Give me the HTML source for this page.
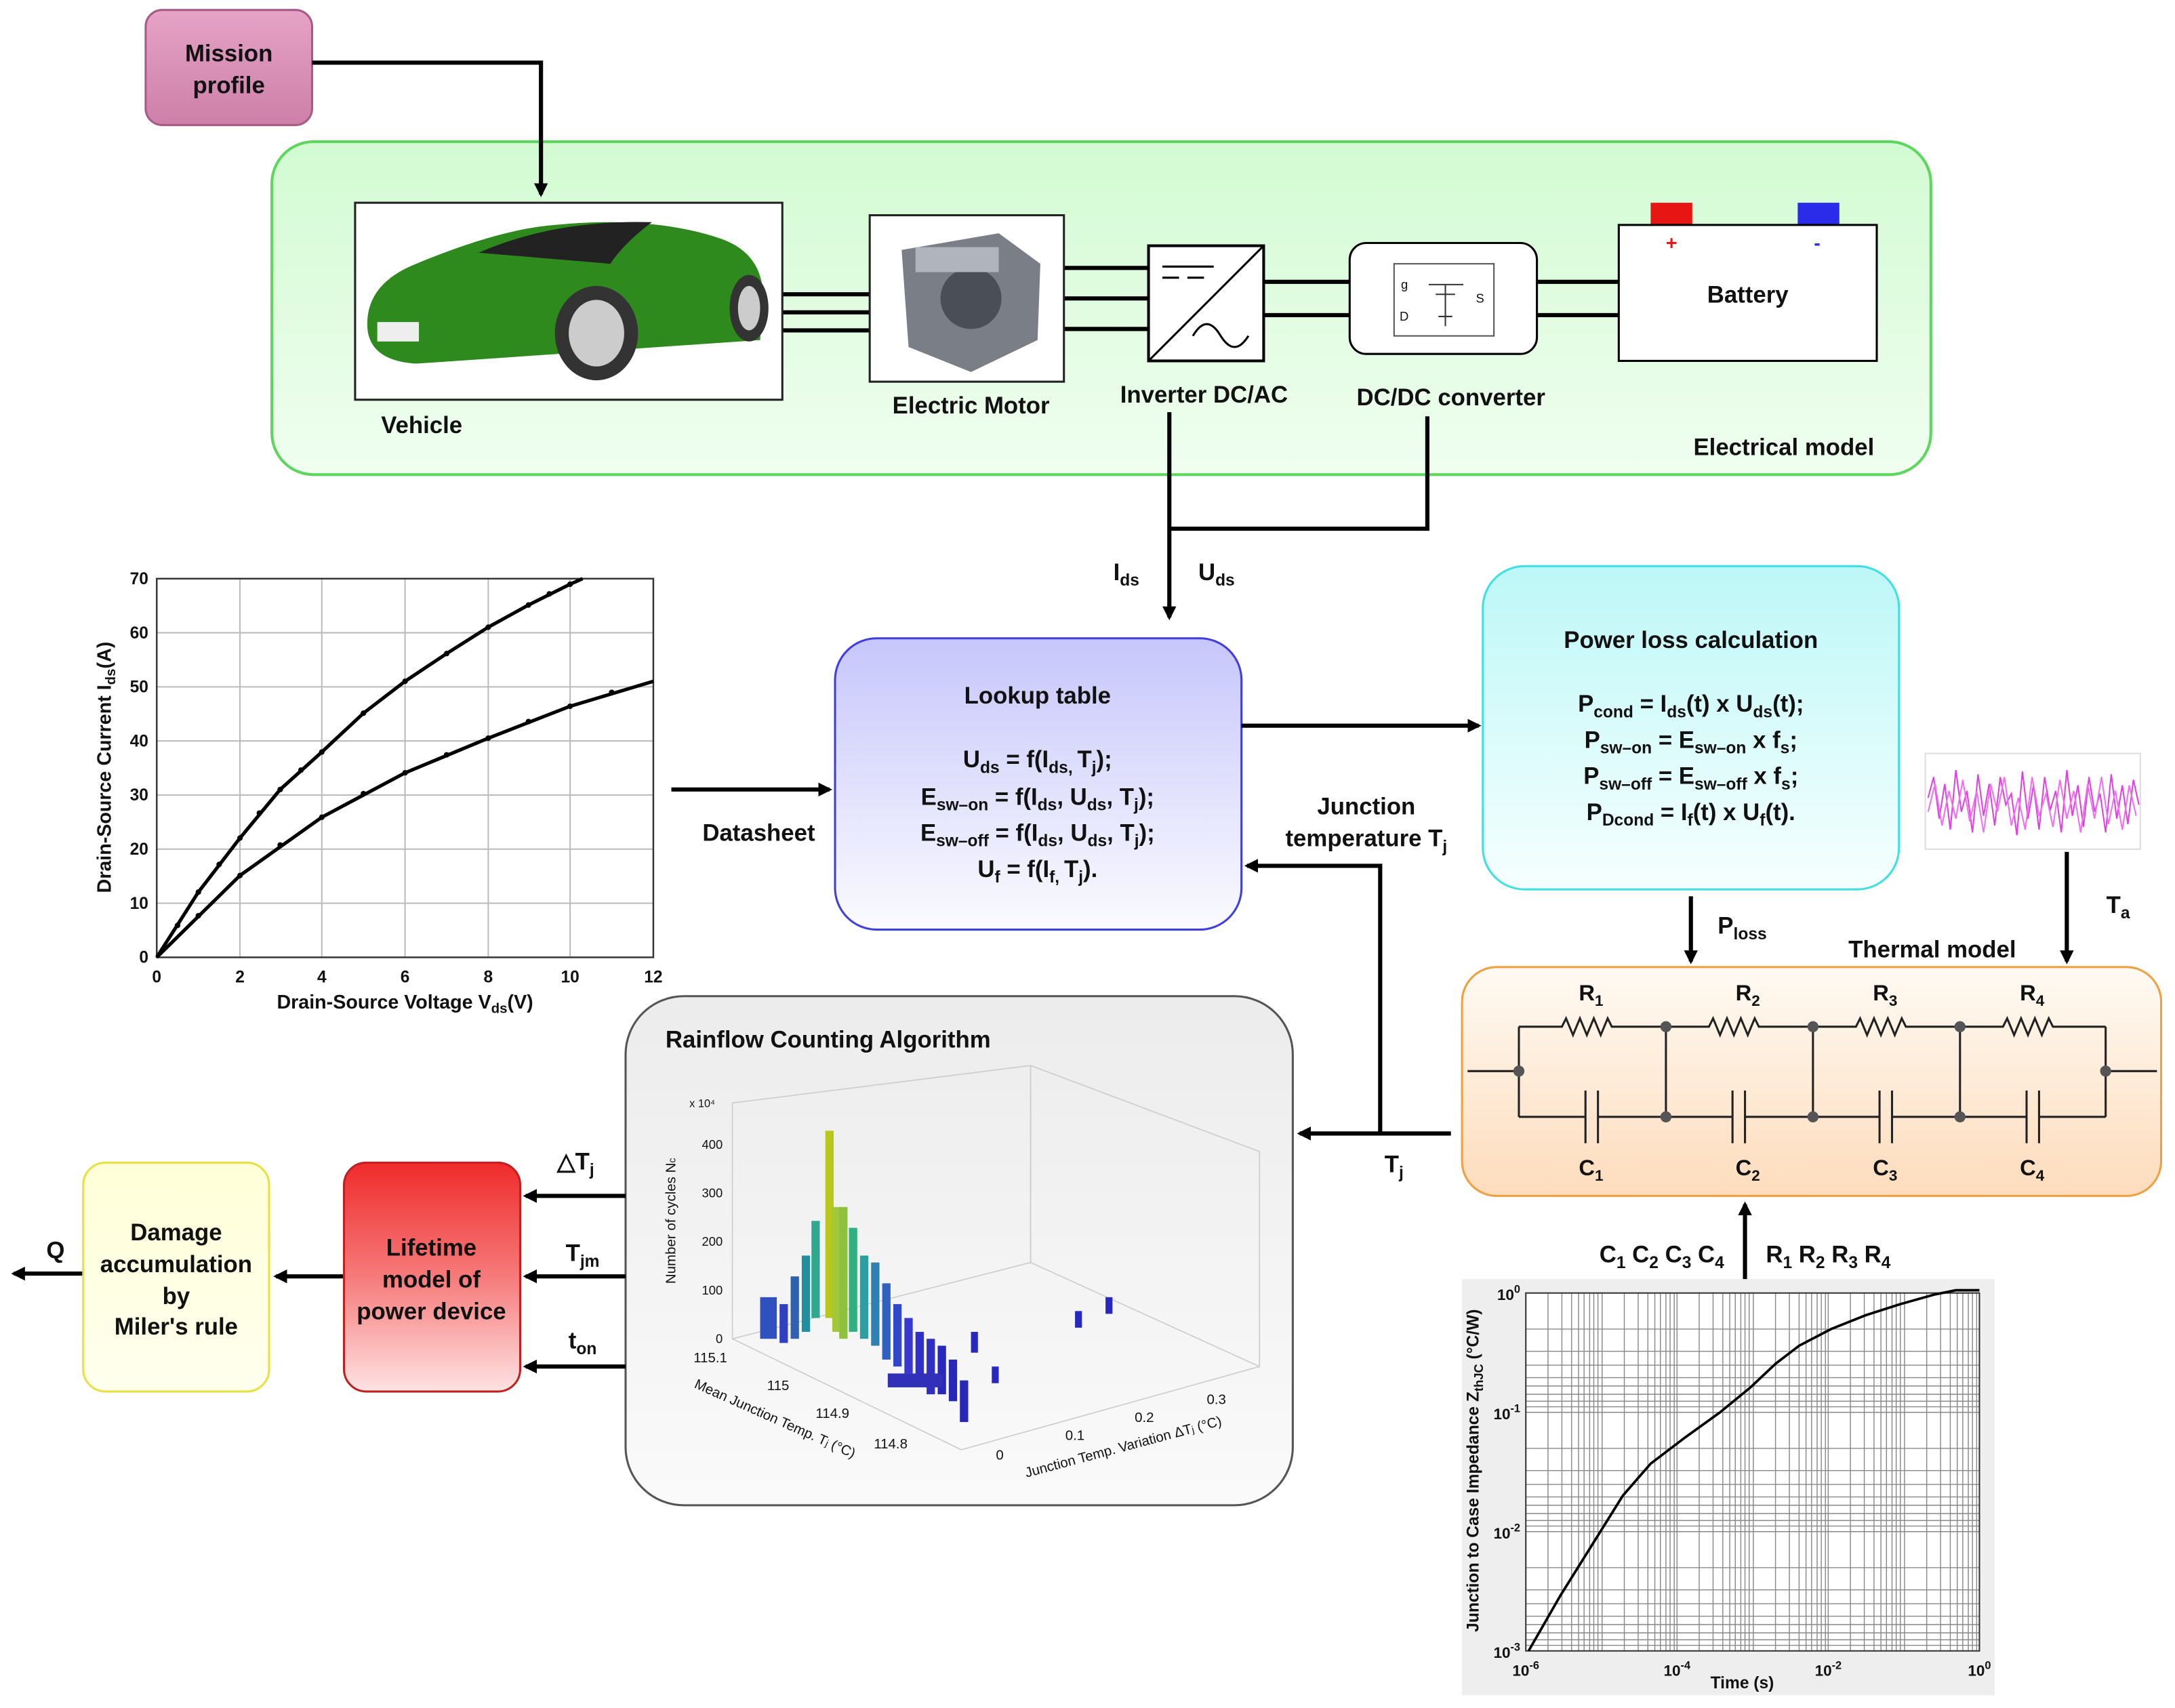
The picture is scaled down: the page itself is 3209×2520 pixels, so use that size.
<!DOCTYPE html>
<html><head><meta charset="utf-8"><style>
html,body{margin:0;padding:0;background:#fff}
svg{display:block}
text{font-family:"Liberation Sans",sans-serif;font-weight:bold;fill:#111}
</style></head><body>
<svg width="3209" height="2520" viewBox="0 0 1568 1231" xmlns="http://www.w3.org/2000/svg">
<defs>
<marker id="ar" markerWidth="10" markerHeight="10" refX="8" refY="5" orient="auto" markerUnits="userSpaceOnUse"><path d="M0,0 L10,5 L0,10 z" fill="#000"/></marker>
<linearGradient id="gpink" x1="0" y1="0" x2="0" y2="1"><stop offset="0" stop-color="#e6a3c6"/><stop offset="1" stop-color="#cd7fa8"/></linearGradient>
<linearGradient id="ggreen" x1="0" y1="0" x2="0" y2="1"><stop offset="0" stop-color="#d2fbd2"/><stop offset="1" stop-color="#f0fef0"/></linearGradient>
<linearGradient id="gblue" x1="0" y1="0" x2="0" y2="1"><stop offset="0" stop-color="#c6c6fb"/><stop offset="1" stop-color="#fbfbff"/></linearGradient>
<linearGradient id="gcyan" x1="0" y1="0" x2="0" y2="1"><stop offset="0" stop-color="#bdf7f7"/><stop offset="1" stop-color="#f6ffff"/></linearGradient>
<linearGradient id="gorange" x1="0" y1="0" x2="0" y2="1"><stop offset="0" stop-color="#fffaf3"/><stop offset="1" stop-color="#fddcbc"/></linearGradient>
<linearGradient id="gred" x1="0" y1="0" x2="0" y2="1"><stop offset="0" stop-color="#ef2b2b"/><stop offset="0.5" stop-color="#f67a7a"/><stop offset="1" stop-color="#ffe3e3"/></linearGradient>
<linearGradient id="gyel" x1="0" y1="0" x2="0" y2="1"><stop offset="0" stop-color="#ffffd8"/><stop offset="1" stop-color="#ffffee"/></linearGradient>
<linearGradient id="ggray" x1="0" y1="0" x2="0" y2="1"><stop offset="0" stop-color="#ececec"/><stop offset="1" stop-color="#fafafa"/></linearGradient>
</defs>

<!-- Mission profile -->
<rect x="105" y="7" width="120" height="83" rx="12" fill="url(#gpink)" stroke="#a85a86" stroke-width="1.5"/>
<text x="165" y="44" font-size="17" text-anchor="middle">Mission</text>
<text x="165" y="67" font-size="17" text-anchor="middle">profile</text>

<!-- Electrical model container -->
<rect x="196" y="102" width="1196" height="240" rx="30" fill="url(#ggreen)" stroke="#5cd65c" stroke-width="2"/>
<text x="1286" y="328" font-size="17" text-anchor="middle">Electrical model</text>
<polyline points="225,45 390,45 390,140" fill="none" stroke="#000" stroke-width="3" marker-end="url(#ar)"/>

<!-- connection lines -->
<g stroke="#000" stroke-width="3">
<line x1="564" y1="212" x2="627" y2="212"/><line x1="564" y1="225" x2="627" y2="225"/><line x1="564" y1="238" x2="627" y2="238"/>
<line x1="767" y1="193" x2="828" y2="193"/><line x1="767" y1="215" x2="828" y2="215"/><line x1="767" y1="237" x2="828" y2="237"/>
<line x1="911" y1="203" x2="973" y2="203"/><line x1="911" y1="227" x2="973" y2="227"/>
<line x1="1108" y1="203" x2="1167" y2="203"/><line x1="1108" y1="227" x2="1167" y2="227"/>
</g>

<!-- Vehicle -->
<rect x="256" y="146" width="308" height="142" fill="#fff" stroke="#222" stroke-width="1.5"/>
<path d="M265,238 Q262,205 300,190 Q360,165 400,162 Q470,155 520,172 Q548,182 550,210 L548,245 L300,262 Q268,260 265,238 Z" fill="#2f8a1e"/>
<path d="M345,182 Q400,158 470,160 Q450,175 440,190 Z" fill="#222"/>
<ellipse cx="430" cy="240" rx="30" ry="34" fill="#333"/><ellipse cx="430" cy="240" rx="20" ry="24" fill="#ccc"/>
<ellipse cx="540" cy="222" rx="14" ry="24" fill="#333"/><ellipse cx="540" cy="222" rx="8" ry="16" fill="#ccc"/>
<rect x="272" y="232" width="30" height="14" fill="#eee"/>
<text x="304" y="312" font-size="17" text-anchor="middle">Vehicle</text>

<!-- Motor -->
<rect x="627" y="155" width="140" height="120" fill="#fff" stroke="#222" stroke-width="1.5"/>
<path d="M650,180 L720,168 L750,190 L748,245 L700,268 L655,250 Z" fill="#7a7e86"/>
<circle cx="700" cy="215" r="22" fill="#4a4e56"/><rect x="660" y="178" width="60" height="18" fill="#b0b4bc"/>
<text x="700" y="298" font-size="17" text-anchor="middle">Electric Motor</text>

<!-- Inverter -->
<rect x="828" y="177" width="83" height="83" fill="#fff" stroke="#000" stroke-width="2"/>
<line x1="828" y1="260" x2="911" y2="177" stroke="#000" stroke-width="1.5"/>
<line x1="838" y1="192" x2="875" y2="192" stroke="#000" stroke-width="1.5"/>
<line x1="838" y1="200" x2="850" y2="200" stroke="#000" stroke-width="1.5"/><line x1="856" y1="200" x2="868" y2="200" stroke="#000" stroke-width="1.5"/>
<path d="M860,242 Q870,225 880,242 Q890,258 900,242" fill="none" stroke="#000" stroke-width="1.5"/>
<text x="868" y="290" font-size="17" text-anchor="middle">Inverter DC/AC</text>

<!-- DC/DC -->
<rect x="973" y="175" width="135" height="80" rx="12" fill="#fff" stroke="#000" stroke-width="1.5"/>
<rect x="1005" y="190" width="72" height="52" fill="#fff" stroke="#555" stroke-width="1"/>
<text x="1010" y="208" font-size="9" style="font-weight:normal">g</text><text x="1009" y="231" font-size="9" style="font-weight:normal">D</text><text x="1064" y="218" font-size="9" style="font-weight:normal">S</text>
<path d="M1030,205 L1055,205 M1042,205 L1042,235 M1035,212 L1049,212 M1037,228 L1047,228" stroke="#333" stroke-width="1" fill="none"/>
<text x="1046" y="292" font-size="17" text-anchor="middle">DC/DC converter</text>

<!-- Battery -->
<rect x="1190" y="146" width="30" height="16" fill="#e81515"/><rect x="1296" y="146" width="30" height="16" fill="#2b2bea"/>
<rect x="1167" y="162" width="186" height="98" fill="#fff" stroke="#000" stroke-width="1.5"/>
<text x="1205" y="180" font-size="14" text-anchor="middle" style="fill:#e81515">+</text>
<text x="1310" y="180" font-size="14" text-anchor="middle" style="fill:#2b2bea">-</text>
<text x="1260" y="218" font-size="17" text-anchor="middle">Battery</text>

<!-- Ids/Uds -->
<line x1="843" y1="297" x2="843" y2="445" stroke="#000" stroke-width="3" marker-end="url(#ar)"/>
<polyline points="1029,300 1029,381 843,381" fill="none" stroke="#000" stroke-width="3"/>
<text x="812" y="418" font-size="17" text-anchor="middle">I<tspan font-size="12" dy="4">ds</tspan></text>
<text x="877" y="418" font-size="17" text-anchor="middle">U<tspan font-size="12" dy="4">ds</tspan></text>

<!-- Lookup table -->
<rect x="602" y="460" width="293" height="210" rx="30" fill="url(#gblue)" stroke="#3f3fe0" stroke-width="1.5"/>
<g font-size="17" text-anchor="middle">
<text x="748" y="507">Lookup table</text>
<text x="748" y="553">U<tspan font-size="12" dy="4">ds</tspan><tspan dy="-4"> = f(I</tspan><tspan font-size="12" dy="4">ds, </tspan><tspan dy="-4">T</tspan><tspan font-size="12" dy="4">j</tspan><tspan dy="-4">);</tspan></text>
<text x="748" y="580">E<tspan font-size="12" dy="4">sw–on</tspan><tspan dy="-4"> = f(I</tspan><tspan font-size="12" dy="4">ds</tspan><tspan dy="-4">, U</tspan><tspan font-size="12" dy="4">ds</tspan><tspan dy="-4">, T</tspan><tspan font-size="12" dy="4">j</tspan><tspan dy="-4">);</tspan></text>
<text x="748" y="606">E<tspan font-size="12" dy="4">sw–off</tspan><tspan dy="-4"> = f(I</tspan><tspan font-size="12" dy="4">ds</tspan><tspan dy="-4">, U</tspan><tspan font-size="12" dy="4">ds</tspan><tspan dy="-4">, T</tspan><tspan font-size="12" dy="4">j</tspan><tspan dy="-4">);</tspan></text>
<text x="748" y="632">U<tspan font-size="12" dy="4">f</tspan><tspan dy="-4"> = f(I</tspan><tspan font-size="12" dy="4">f, </tspan><tspan dy="-4">T</tspan><tspan font-size="12" dy="4">j</tspan><tspan dy="-4">).</tspan></text>
</g>
<line x1="895" y1="523" x2="1066" y2="523" stroke="#000" stroke-width="3" marker-end="url(#ar)"/>

<!-- Power loss -->
<rect x="1069" y="408" width="300" height="233" rx="30" fill="url(#gcyan)" stroke="#3fe0e0" stroke-width="1.5"/>
<g font-size="17" text-anchor="middle">
<text x="1219" y="467">Power loss calculation</text>
<text x="1219" y="513">P<tspan font-size="12" dy="4">cond</tspan><tspan dy="-4"> = I</tspan><tspan font-size="12" dy="4">ds</tspan><tspan dy="-4">(t) x U</tspan><tspan font-size="12" dy="4">ds</tspan><tspan dy="-4">(t);</tspan></text>
<text x="1219" y="539">P<tspan font-size="12" dy="4">sw–on</tspan><tspan dy="-4"> = E</tspan><tspan font-size="12" dy="4">sw–on</tspan><tspan dy="-4"> x f</tspan><tspan font-size="12" dy="4">s</tspan><tspan dy="-4">;</tspan></text>
<text x="1219" y="565">P<tspan font-size="12" dy="4">sw–off</tspan><tspan dy="-4"> = E</tspan><tspan font-size="12" dy="4">sw–off</tspan><tspan dy="-4"> x f</tspan><tspan font-size="12" dy="4">s</tspan><tspan dy="-4">;</tspan></text>
<text x="1219" y="591">P<tspan font-size="12" dy="4">Dcond</tspan><tspan dy="-4"> = I</tspan><tspan font-size="12" dy="4">f</tspan><tspan dy="-4">(t) x U</tspan><tspan font-size="12" dy="4">f</tspan><tspan dy="-4">(t).</tspan></text>
</g>

<!-- IV graph -->
<g stroke="#bbb" stroke-width="1">
<line x1="173" y1="417" x2="173" y2="690"/><line x1="232" y1="417" x2="232" y2="690"/><line x1="292" y1="417" x2="292" y2="690"/><line x1="352" y1="417" x2="352" y2="690"/><line x1="411" y1="417" x2="411" y2="690"/>
<line x1="113" y1="456" x2="471" y2="456"/><line x1="113" y1="495" x2="471" y2="495"/><line x1="113" y1="534" x2="471" y2="534"/><line x1="113" y1="573" x2="471" y2="573"/><line x1="113" y1="612" x2="471" y2="612"/><line x1="113" y1="651" x2="471" y2="651"/>
</g>
<rect x="113" y="417" width="358" height="273" fill="none" stroke="#333" stroke-width="1.2"/>
<polyline points="113,690 143,643 173,604 202,569 232,542 262,514 292,491 322,471 352,452 381,436 411,421 420,417" fill="none" stroke="#000" stroke-width="2.5"/>
<polyline points="113,690 173,631 232,589 292,557 352,532 411,509 471,491" fill="none" stroke="#000" stroke-width="2.5"/>
<g fill="#000">
<circle cx="128" cy="667" r="2"/><circle cx="143" cy="643" r="2"/><circle cx="158" cy="623" r="2"/><circle cx="173" cy="604" r="2"/><circle cx="187" cy="586" r="2"/><circle cx="202" cy="569" r="2"/><circle cx="217" cy="555" r="2"/><circle cx="232" cy="542" r="2"/><circle cx="262" cy="514" r="2"/><circle cx="292" cy="491" r="2"/><circle cx="322" cy="471" r="2"/><circle cx="352" cy="452" r="2"/><circle cx="381" cy="436" r="2"/><circle cx="396" cy="428" r="2"/><circle cx="411" cy="421" r="2"/>
<circle cx="143" cy="660" r="2"/><circle cx="173" cy="631" r="2"/><circle cx="202" cy="609" r="2"/><circle cx="232" cy="589" r="2"/><circle cx="262" cy="572" r="2"/><circle cx="292" cy="557" r="2"/><circle cx="322" cy="544" r="2"/><circle cx="352" cy="532" r="2"/><circle cx="381" cy="520" r="2"/><circle cx="411" cy="509" r="2"/><circle cx="441" cy="499" r="2"/>
</g>
<g font-size="12" text-anchor="end"><text x="107" y="694">0</text><text x="107" y="655">10</text><text x="107" y="616">20</text><text x="107" y="577">30</text><text x="107" y="538">40</text><text x="107" y="499">50</text><text x="107" y="460">60</text><text x="107" y="421">70</text></g>
<g font-size="12" text-anchor="middle"><text x="113" y="708">0</text><text x="173" y="708">2</text><text x="232" y="708">4</text><text x="292" y="708">6</text><text x="352" y="708">8</text><text x="411" y="708">10</text><text x="471" y="708">12</text></g>
<text x="292" y="727" font-size="14" text-anchor="middle">Drain-Source Voltage V<tspan font-size="10" dy="3">ds</tspan><tspan dy="-3">(V)</tspan></text>
<text transform="translate(80,553) rotate(-90)" font-size="14" text-anchor="middle">Drain-Source Current I<tspan font-size="10" dy="3">ds</tspan><tspan dy="-3">(A)</tspan></text>

<line x1="484" y1="569" x2="598" y2="569" stroke="#000" stroke-width="3" marker-end="url(#ar)"/>
<text x="547" y="606" font-size="17" text-anchor="middle">Datasheet</text>

<text x="985" y="587" font-size="17" text-anchor="middle">Junction</text>
<text x="985" y="610" font-size="17" text-anchor="middle">temperature T<tspan font-size="12" dy="4">j</tspan></text>
<polyline points="995,817 995,624 899,624" fill="none" stroke="#000" stroke-width="3" marker-end="url(#ar)"/>

<!-- noise -->
<rect x="1388" y="543" width="155" height="69" fill="#fff" stroke="#ddd"/>
<polyline fill="none" stroke="#e040e0" stroke-width="1" points="1390,575 1394,560 1398,590 1402,565 1406,598 1410,555 1414,585 1418,570 1422,600 1426,558 1430,588 1434,565 1438,595 1442,560 1446,580 1450,572 1454,602 1458,556 1462,590 1466,566 1470,598 1474,560 1478,584 1482,570 1486,600 1490,555 1494,588 1498,566 1502,596 1506,560 1510,585 1514,572 1518,600 1522,558 1526,590 1530,566 1534,594 1538,562 1542,580"/>
<polyline fill="none" stroke="#f070f0" stroke-width="1" points="1390,585 1395,565 1400,595 1405,570 1410,590 1415,562 1420,592 1425,570 1430,600 1435,565 1440,585 1445,560 1450,595 1455,575 1460,598 1465,560 1470,588 1475,572 1480,596 1485,562 1490,590 1495,570 1500,600 1505,565 1510,590 1515,560 1520,594 1525,570 1530,598 1535,566 1540,588"/>
<line x1="1490" y1="614" x2="1490" y2="693" stroke="#000" stroke-width="3" marker-end="url(#ar)"/>
<text x="1527" y="658" font-size="17" text-anchor="middle">T<tspan font-size="12" dy="4">a</tspan></text>
<line x1="1219" y1="646" x2="1219" y2="693" stroke="#000" stroke-width="3" marker-end="url(#ar)"/>
<text x="1256" y="673" font-size="17" text-anchor="middle">P<tspan font-size="12" dy="4">loss</tspan></text>
<text x="1393" y="690" font-size="17" text-anchor="middle">Thermal model</text>

<!-- Thermal model -->
<rect x="1054" y="697" width="504" height="165" rx="25" fill="url(#gorange)" stroke="#f0a040" stroke-width="1.5"/>
<g stroke="#222" stroke-width="1.5" fill="none">
<line x1="1058" y1="772" x2="1095" y2="772"/><line x1="1518" y1="772" x2="1555" y2="772"/>
<line x1="1095" y1="740" x2="1095" y2="805"/><line x1="1518" y1="740" x2="1518" y2="805"/>
<line x1="1201" y1="740" x2="1201" y2="805"/><line x1="1307" y1="740" x2="1307" y2="805"/><line x1="1413" y1="740" x2="1413" y2="805"/>
<path d="M1095,740 H1126 l3,-6 l5,12 l5,-12 l5,12 l5,-12 l5,12 l5,-12 l3,6 H1201"/>
<path d="M1201,740 H1232 l3,-6 l5,12 l5,-12 l5,12 l5,-12 l5,12 l5,-12 l3,6 H1307"/>
<path d="M1307,740 H1338 l3,-6 l5,12 l5,-12 l5,12 l5,-12 l5,12 l5,-12 l3,6 H1413"/>
<path d="M1413,740 H1444 l3,-6 l5,12 l5,-12 l5,12 l5,-12 l5,12 l5,-12 l3,6 H1518"/>
<path d="M1095,805 H1143 M1152,805 H1201 M1143,786 V824 M1152,786 V824"/>
<path d="M1201,805 H1249 M1258,805 H1307 M1249,786 V824 M1258,786 V824"/>
<path d="M1307,805 H1355 M1364,805 H1413 M1355,786 V824 M1364,786 V824"/>
<path d="M1413,805 H1461 M1470,805 H1518 M1461,786 V824 M1470,786 V824"/>
</g>
<g fill="#555"><circle cx="1095" cy="772" r="4"/><circle cx="1518" cy="772" r="4"/><circle cx="1201" cy="740" r="4"/><circle cx="1307" cy="740" r="4"/><circle cx="1413" cy="740" r="4"/><circle cx="1201" cy="805" r="4"/><circle cx="1307" cy="805" r="4"/><circle cx="1413" cy="805" r="4"/></g>
<g font-size="16" text-anchor="middle">
<text x="1147" y="721">R<tspan font-size="11" dy="4">1</tspan></text><text x="1260" y="721">R<tspan font-size="11" dy="4">2</tspan></text><text x="1359" y="721">R<tspan font-size="11" dy="4">3</tspan></text><text x="1465" y="721">R<tspan font-size="11" dy="4">4</tspan></text>
<text x="1147" y="847">C<tspan font-size="11" dy="4">1</tspan></text><text x="1260" y="847">C<tspan font-size="11" dy="4">2</tspan></text><text x="1359" y="847">C<tspan font-size="11" dy="4">3</tspan></text><text x="1465" y="847">C<tspan font-size="11" dy="4">4</tspan></text>
</g>
<line x1="1046" y1="817" x2="937" y2="817" stroke="#000" stroke-width="3" marker-end="url(#ar)"/>
<text x="1005" y="845" font-size="17" text-anchor="middle">T<tspan font-size="12" dy="4">j</tspan></text>

<!-- Rainflow -->
<rect x="451" y="718" width="481" height="367" rx="42" fill="url(#ggray)" stroke="#555" stroke-width="1.5"/>
<text x="597" y="755" font-size="17" text-anchor="middle">Rainflow Counting Algorithm</text>
<g stroke="#ccc" stroke-width="0.8" fill="none">
<polygon points="528,795 743,768 743,910 528,965"/>
<polygon points="743,768 908,830 908,985 743,910"/>
<polyline points="528,965 693,1045 908,985"/>
</g>
<g font-size="9" text-anchor="end">
<text x="521" y="968" style="font-weight:normal">0</text><text x="521" y="933" style="font-weight:normal">100</text><text x="521" y="898" style="font-weight:normal">200</text><text x="521" y="863" style="font-weight:normal">300</text><text x="521" y="828" style="font-weight:normal">400</text>
</g>
<text x="497" y="798" font-size="8" style="font-weight:normal">x 10⁴</text>
<text transform="translate(487,880) rotate(-90)" font-size="10" text-anchor="middle" style="font-weight:normal">Number of cycles N<tspan font-size="7">c</tspan></text>
<g>
<rect x="595" y="815" width="6" height="135" fill="#b8c81a"/>
<rect x="600" y="870" width="6" height="90" fill="#a0c838"/><rect x="605" y="870" width="6" height="95" fill="#90c040"/>
<rect x="585" y="880" width="6" height="70" fill="#30a890"/><rect x="578" y="905" width="6" height="55" fill="#2090a0"/>
<rect x="570" y="920" width="6" height="45" fill="#3060b0"/><rect x="562" y="940" width="6" height="28" fill="#3040c0"/>
<rect x="612" y="885" width="6" height="75" fill="#30b080"/><rect x="620" y="905" width="6" height="60" fill="#2ca0a0"/>
<rect x="628" y="910" width="6" height="60" fill="#2e80b0"/><rect x="636" y="925" width="6" height="55" fill="#3060c0"/>
<rect x="644" y="940" width="6" height="45" fill="#3048c8"/><rect x="652" y="950" width="6" height="40" fill="#3838d0"/>
<rect x="660" y="960" width="6" height="35" fill="#3030c8"/><rect x="668" y="965" width="6" height="40" fill="#3030c0"/>
<rect x="676" y="970" width="6" height="35" fill="#2828c0"/><rect x="684" y="980" width="6" height="30" fill="#2828b8"/>
<rect x="692" y="995" width="6" height="30" fill="#2828b8"/><rect x="700" y="960" width="5" height="15" fill="#2828c0"/>
<rect x="715" y="985" width="5" height="12" fill="#2828c0"/><rect x="775" y="945" width="5" height="12" fill="#2828c0"/><rect x="797" y="935" width="5" height="12" fill="#2828c0"/>
<rect x="548" y="935" width="12" height="30" fill="#3050c0"/><rect x="640" y="990" width="40" height="10" fill="#3030b8"/>
</g>
<g font-size="10">
<text x="500" y="982" style="font-weight:normal">115.1</text><text x="553" y="1002" style="font-weight:normal">115</text><text x="588" y="1022" style="font-weight:normal">114.9</text><text x="630" y="1044" style="font-weight:normal">114.8</text>
<text x="718" y="1052" style="font-weight:normal">0</text><text x="768" y="1038" style="font-weight:normal">0.1</text><text x="818" y="1025" style="font-weight:normal">0.2</text><text x="870" y="1012" style="font-weight:normal">0.3</text>
<text transform="translate(500,1000) rotate(24)" style="font-weight:normal">Mean Junction Temp. T<tspan font-size="7">j</tspan> (°C)</text>
<text transform="translate(740,1065) rotate(-15)" style="font-weight:normal">Junction Temp. Variation ΔT<tspan font-size="7">j</tspan> (°C)</text>
</g>

<!-- arrows to lifetime -->
<g stroke="#000" stroke-width="3">
<line x1="451" y1="862" x2="379" y2="862" marker-end="url(#ar)"/>
<line x1="451" y1="920" x2="379" y2="920" marker-end="url(#ar)"/>
<line x1="451" y1="985" x2="379" y2="985" marker-end="url(#ar)"/>
<line x1="248" y1="920" x2="199" y2="920" marker-end="url(#ar)"/>
<line x1="60" y1="918" x2="10" y2="918" marker-end="url(#ar)"/>
</g>
<text x="415" y="843" font-size="17" text-anchor="middle">△T<tspan font-size="12" dy="4">j</tspan></text>
<text x="420" y="909" font-size="17" text-anchor="middle">T<tspan font-size="12" dy="4">jm</tspan></text>
<text x="420" y="972" font-size="17" text-anchor="middle">t<tspan font-size="12" dy="4">on</tspan></text>
<text x="40" y="907" font-size="17" text-anchor="middle">Q</text>

<rect x="248" y="838" width="127" height="165" rx="16" fill="url(#gred)" stroke="#c02020" stroke-width="1.5"/>
<g font-size="17" text-anchor="middle"><text x="311" y="905">Lifetime</text><text x="311" y="928">model of</text><text x="311" y="951">power device</text></g>
<rect x="60" y="838" width="134" height="165" rx="16" fill="url(#gyel)" stroke="#e8e040" stroke-width="1.5"/>
<g font-size="17" text-anchor="middle"><text x="127" y="894">Damage</text><text x="127" y="917">accumulation</text><text x="127" y="940">by</text><text x="127" y="962">Miler's rule</text></g>

<!-- Zth plot -->
<line x1="1258" y1="922" x2="1258" y2="868" stroke="#000" stroke-width="3" marker-end="url(#ar)"/>
<text x="1198" y="910" font-size="17" text-anchor="middle">C<tspan font-size="12" dy="4">1</tspan><tspan dy="-4"> C</tspan><tspan font-size="12" dy="4">2</tspan><tspan dy="-4"> C</tspan><tspan font-size="12" dy="4">3</tspan><tspan dy="-4"> C</tspan><tspan font-size="12" dy="4">4</tspan></text>
<text x="1318" y="910" font-size="17" text-anchor="middle">R<tspan font-size="12" dy="4">1</tspan><tspan dy="-4"> R</tspan><tspan font-size="12" dy="4">2</tspan><tspan dy="-4"> R</tspan><tspan font-size="12" dy="4">3</tspan><tspan dy="-4"> R</tspan><tspan font-size="12" dy="4">4</tspan></text>
<rect x="1054" y="922" width="384" height="300" fill="#eeeeee"/>
<rect x="1100" y="932" width="327" height="258" fill="#fff"/>
<g stroke="#888" stroke-width="0.7">
<path d="M1155,932V1190M1209,932V1190M1264,932V1190M1318,932V1190M1373,932V1190
M1116,932V1190M1126,932V1190M1133,932V1190M1138,932V1190M1142,932V1190M1146,932V1190M1149,932V1190M1152,932V1190
M1171,932V1190M1181,932V1190M1188,932V1190M1193,932V1190M1197,932V1190M1201,932V1190M1204,932V1190M1207,932V1190
M1225,932V1190M1235,932V1190M1242,932V1190M1247,932V1190M1251,932V1190M1255,932V1190M1258,932V1190M1261,932V1190
M1280,932V1190M1290,932V1190M1297,932V1190M1302,932V1190M1306,932V1190M1310,932V1190M1313,932V1190M1316,932V1190
M1334,932V1190M1344,932V1190M1351,932V1190M1356,932V1190M1360,932V1190M1364,932V1190M1367,932V1190M1370,932V1190
M1389,932V1190M1399,932V1190M1406,932V1190M1411,932V1190M1415,932V1190M1419,932V1190M1422,932V1190M1425,932V1190
M1100,1018H1427M1100,1104H1427
M1100,958H1427M1100,974H1427M1100,984H1427M1100,993H1427M1100,999H1427M1100,1005H1427M1100,1010H1427M1100,1014H1427
M1100,1044H1427M1100,1060H1427M1100,1070H1427M1100,1079H1427M1100,1085H1427M1100,1091H1427M1100,1096H1427M1100,1100H1427
M1100,1130H1427M1100,1146H1427M1100,1156H1427M1100,1165H1427M1100,1171H1427M1100,1177H1427M1100,1182H1427M1100,1186H1427"/>
</g>
<rect x="1100" y="932" width="327" height="258" fill="none" stroke="#333" stroke-width="1"/>
<polyline points="1102,1190 1125,1150 1150,1110 1170,1078 1190,1055 1215,1036 1240,1018 1262,1000 1280,983 1297,970 1320,958 1345,948 1370,940 1395,933 1410,930 1427,930" fill="none" stroke="#000" stroke-width="1.8"/>
<g font-size="11" text-anchor="end">
<text x="1096" y="937">10<tspan font-size="8" dy="-5">0</tspan></text><text x="1096" y="1023">10<tspan font-size="8" dy="-5">-1</tspan></text><text x="1096" y="1109">10<tspan font-size="8" dy="-5">-2</tspan></text><text x="1096" y="1195">10<tspan font-size="8" dy="-5">-3</tspan></text>
</g>
<g font-size="11" text-anchor="middle">
<text x="1100" y="1208">10<tspan font-size="8" dy="-5">-6</tspan></text><text x="1209" y="1208">10<tspan font-size="8" dy="-5">-4</tspan></text><text x="1318" y="1208">10<tspan font-size="8" dy="-5">-2</tspan></text><text x="1427" y="1208">10<tspan font-size="8" dy="-5">0</tspan></text>
</g>
<text x="1256" y="1217" font-size="12" text-anchor="middle">Time (s)</text>
<text transform="translate(1066,1060) rotate(-90)" font-size="12" text-anchor="middle">Junction to Case Impedance Z<tspan font-size="9" dy="3">thJC</tspan><tspan dy="-3"> (°C/W)</tspan></text>
</svg>
</body></html>
